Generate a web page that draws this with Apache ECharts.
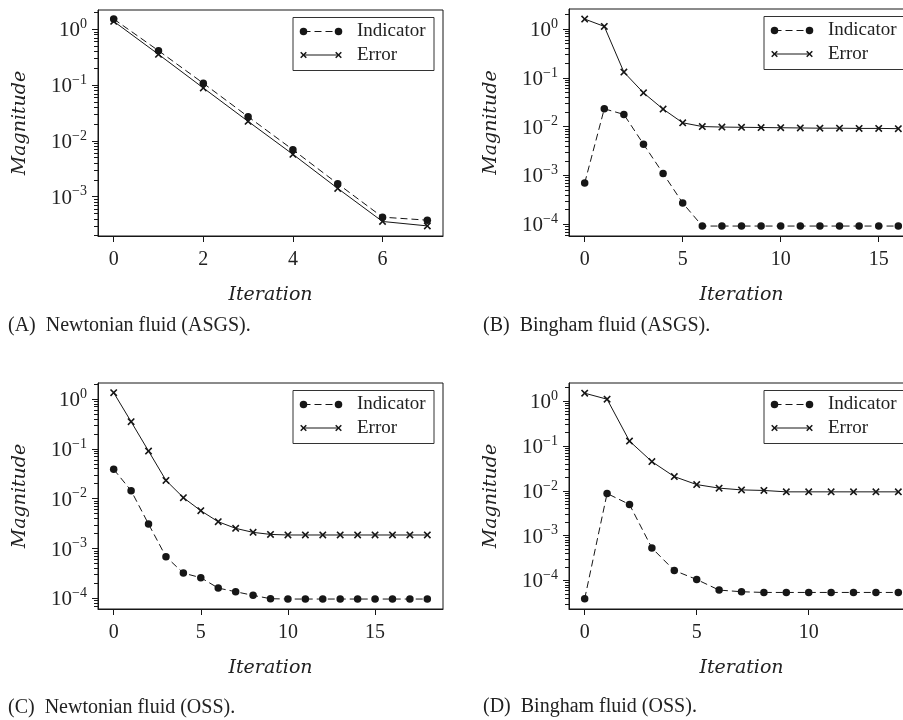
<!DOCTYPE html>
<html>
<head>
<meta charset="utf-8">
<script src="https://cdn.jsdelivr.net/npm/echarts@6/dist/echarts.min.js"></script>
<style>
  html, body { margin: 0; padding: 0; background: #fff; overflow: hidden; }
  #chart { width: 920px; height: 720px; }
</style>
</head>
<body>
<div id="chart"></div>
<script>
// Convergence of the error indicator and the true error, per iteration.

// (A) Newtonian fluid, ASGS
const newtonAsgsIndicator = [1.53, 0.414, 0.108, 0.0272, 0.00695, 0.00171, 4.3e-4, 3.8e-4];
const newtonAsgsError     = [1.39, 0.356, 0.089, 0.0224, 0.00575, 0.00141, 3.6e-4, 3.0e-4];

// (B) Bingham fluid, ASGS
const binghamAsgsIndicator = [7.0e-4, 0.0232, 0.0178, 0.00437, 0.0011, 2.73e-4, 9.2e-5, 9.2e-5, 9.2e-5,
                              9.2e-5, 9.2e-5, 9.2e-5, 9.2e-5, 9.2e-5, 9.2e-5, 9.2e-5, 9.2e-5];
const binghamAsgsError     = [1.6, 1.13, 0.131, 0.0493, 0.0229, 0.012, 0.01005, 0.0098, 0.0097,
                              0.0096, 0.0095, 0.0094, 0.0093, 0.0093, 0.0092, 0.0092, 0.0091];

// (C) Newtonian fluid, OSS
const newtonOssIndicator = [0.0388, 0.0145, 0.0031, 6.85e-4, 3.22e-4, 2.6e-4, 1.61e-4, 1.36e-4, 1.15e-4,
                            9.85e-5, 9.7e-5, 9.7e-5, 9.7e-5, 9.7e-5, 9.7e-5, 9.7e-5, 9.7e-5, 9.7e-5, 9.7e-5];
const newtonOssError     = [1.34, 0.351, 0.0905, 0.0233, 0.0105, 0.00574, 0.00345, 0.00254, 0.00211,
                            0.00192, 0.00187, 0.00187, 0.00187, 0.00187, 0.00187, 0.00187, 0.00187, 0.00187, 0.00187];

// (D) Bingham fluid, OSS
const binghamOssIndicator = [3.9e-5, 0.00873, 0.00497, 5.3e-4, 1.67e-4, 1.05e-4, 6.1e-5, 5.6e-5,
                             5.4e-5, 5.4e-5, 5.4e-5, 5.4e-5, 5.4e-5, 5.4e-5, 5.4e-5];
const binghamOssError     = [1.51, 1.11, 0.129, 0.0449, 0.0208, 0.0138, 0.0115, 0.0105,
                             0.0102, 0.0095, 0.0095, 0.0095, 0.0095, 0.0095, 0.0095];

// Tick values
const xTicksA = [0, 2, 4, 6];
const xTicksB = [0, 5, 10, 15];
const xTicksC = [0, 5, 10, 15];
const xTicksD = [0, 5, 10];
const yMajorTicks = [1e-4, 1e-3, 1e-2, 1e-1, 1];
const yMinorTicks = [2e-5, 3e-5, 4e-5, 5e-5, 6e-5, 7e-5, 8e-5, 9e-5,
                     2e-4, 3e-4, 4e-4, 5e-4, 6e-4, 7e-4, 8e-4, 9e-4,
                     2e-3, 3e-3, 4e-3, 5e-3, 6e-3, 7e-3, 8e-3, 9e-3,
                     2e-2, 3e-2, 4e-2, 5e-2, 6e-2, 7e-2, 8e-2, 9e-2,
                     0.2, 0.3, 0.4, 0.5, 0.6, 0.7, 0.8, 0.9, 2];

const captions = ['(A)  Newtonian fluid (ASGS).', '(B)  Bingham fluid (ASGS).',
                  '(C)  Newtonian fluid (OSS).', '(D)  Bingham fluid (OSS).'];
const legendNames = ['Indicator', 'Error'];

const INK = '#161616';
const SERIF = '"Liberation Serif", "Times New Roman", serif';
const MATH_IT = '"DejaVu Serif", serif';

const panels = [
  { grid: { left: 98,  top: 10,  width: 345, height: 226 }, x: [-0.35, 7.35], y: [-3.704, 0.346],
    ticks: xTicksA, ind: newtonAsgsIndicator, err: newtonAsgsError, capY: 326 },
  { grid: { left: 569, top: 9,   width: 345, height: 227 }, x: [-0.8, 16.8],  y: [-4.24, 0.41],
    ticks: xTicksB, ind: binghamAsgsIndicator, err: binghamAsgsError, capY: 326 },
  { grid: { left: 98,  top: 383, width: 345, height: 226 }, x: [-0.9, 18.9],  y: [-4.213, 0.321],
    ticks: xTicksC, ind: newtonOssIndicator, err: newtonOssError, capY: 708 },
  { grid: { left: 569, top: 383, width: 345, height: 226 }, x: [-0.7, 14.7],  y: [-4.637, 0.407],
    ticks: xTicksD, ind: binghamOssIndicator, err: binghamOssError, capY: 707 }
];

const crossPath = 'path://M0,1.5L1.5,0L5,3.5L8.5,0L10,1.5L6.5,5L10,8.5L8.5,10L5,6.5L1.5,10L0,8.5L3.5,5Z';

function expLabel(v) {
  const e = Math.round(Math.log10(v));
  return '{b|10}{s|' + (e < 0 ? '\u2212' + (-e) : String(e)) + '}';
}

const grids = [], xAxes = [], yAxes = [], series = [], graphics = [];

panels.forEach((p, i) => {
  const ymin = Math.pow(10, p.y[0]), ymax = Math.pow(10, p.y[1]);
  grids.push(Object.assign({ show: true, borderColor: INK, borderWidth: 1, containLabel: false }, p.grid));

  xAxes.push({
    gridIndex: i, type: 'value', min: p.x[0], max: p.x[1],
    axisLine: { show: true, onZero: false, lineStyle: { color: INK, width: 1 } },
    splitLine: { show: false },
    axisTick: { show: true, customValues: p.ticks, length: 6, inside: false, lineStyle: { color: INK, width: 1 } },
    axisLabel: { customValues: p.ticks, margin: 14, fontSize: 20, fontFamily: SERIF, color: '#222' },
    name: 'Iteration', nameLocation: 'middle', nameGap: 50,
    nameTextStyle: { fontFamily: MATH_IT, fontStyle: 'italic', fontSize: 19, color: '#222' }
  });

  // main log axis with major ticks and labels
  yAxes.push({
    gridIndex: i, type: 'log', logBase: 10, min: ymin, max: ymax,
    axisLine: { show: true, onZero: false, lineStyle: { color: INK, width: 1 } },
    splitLine: { show: false },
    axisTick: { show: true, customValues: yMajorTicks, length: 6, inside: false, lineStyle: { color: INK, width: 1 } },
    axisLabel: {
      customValues: yMajorTicks, margin: 11, formatter: expLabel, color: '#222',
      rich: {
        b: { fontSize: 21, fontFamily: SERIF, color: '#222', verticalAlign: 'bottom', lineHeight: 24 },
        s: { fontSize: 14, fontFamily: SERIF, color: '#222', verticalAlign: 'top', lineHeight: 24 }
      }
    },
    name: 'Magnitude', nameLocation: 'middle', nameGap: 68,
    nameTextStyle: { fontFamily: MATH_IT, fontStyle: 'italic', fontSize: 19, color: '#222' }
  });
  // overlay log axis carrying the minor ticks
  yAxes.push({
    gridIndex: i, type: 'log', logBase: 10, min: ymin, max: ymax, position: 'left',
    axisLine: { show: false, onZero: false }, splitLine: { show: false }, axisLabel: { show: false },
    axisTick: { show: true, customValues: yMinorTicks.filter(v => v >= ymin && v <= ymax),
                length: 4, inside: false, lineStyle: { color: INK, width: 1 } }
  });

  series.push({
    name: legendNames[0], type: 'line', xAxisIndex: i, yAxisIndex: 2 * i,
    data: p.ind.map((v, k) => [k, v]),
    symbol: 'circle', symbolSize: 7.5, showAllSymbol: true,
    lineStyle: { color: INK, width: 1, type: [7, 4] },
    itemStyle: { color: INK }, z: 3
  });
  series.push({
    name: legendNames[1], type: 'line', xAxisIndex: i, yAxisIndex: 2 * i,
    data: p.err.map((v, k) => [k, v]),
    symbol: crossPath, symbolSize: 7.5, showAllSymbol: true,
    lineStyle: { color: INK, width: 1, type: 'solid' },
    itemStyle: { color: INK }, z: 3
  });

  // legend box
  const g = p.grid;
  const bx = g.left + g.width - 150, by = g.top + 7.5;
  const r1 = by + 14, r2 = by + 37.5;
  const c1 = bx + 10.5, c2 = bx + 45.5;
  graphics.push({ type: 'rect', shape: { x: bx, y: by, width: 141, height: 53 },
                  style: { fill: '#fff', stroke: '#333', lineWidth: 1 }, z: 10 });
  graphics.push({ type: 'line', shape: { x1: c1, y1: r1, x2: c2, y2: r1 },
                  style: { stroke: INK, lineWidth: 1, lineDash: [7, 4] }, z: 11 });
  graphics.push({ type: 'circle', shape: { cx: c1, cy: r1, r: 3.75 }, style: { fill: INK }, z: 12 });
  graphics.push({ type: 'circle', shape: { cx: c2, cy: r1, r: 3.75 }, style: { fill: INK }, z: 12 });
  graphics.push({ type: 'line', shape: { x1: c1, y1: r2, x2: c2, y2: r2 },
                  style: { stroke: INK, lineWidth: 1 }, z: 11 });
  [c1, c2].forEach(cx => {
    graphics.push({ type: 'line', shape: { x1: cx - 2.8, y1: r2 - 2.8, x2: cx + 2.8, y2: r2 + 2.8 },
                    style: { stroke: INK, lineWidth: 1.5 }, z: 12 });
    graphics.push({ type: 'line', shape: { x1: cx - 2.8, y1: r2 + 2.8, x2: cx + 2.8, y2: r2 - 2.8 },
                    style: { stroke: INK, lineWidth: 1.5 }, z: 12 });
  });
  graphics.push({ type: 'text', x: bx + 64, y: r1, z: 12,
                  style: { text: legendNames[0], font: '19px ' + SERIF, fill: '#222', verticalAlign: 'middle' } });
  graphics.push({ type: 'text', x: bx + 64, y: r2, z: 12,
                  style: { text: legendNames[1], font: '19px ' + SERIF, fill: '#222', verticalAlign: 'middle' } });

  // caption
  graphics.push({ type: 'text', x: i % 2 === 0 ? 8 : 483, y: p.capY, z: 12,
                  style: { text: captions[i], font: '20px ' + SERIF, fill: '#222', verticalAlign: 'middle' } });
});

const chart = echarts.init(document.getElementById('chart'), null, { renderer: 'canvas' });
chart.setOption({
  animation: false,
  backgroundColor: '#fff',
  grid: grids, xAxis: xAxes, yAxis: yAxes, series: series,
  graphic: { elements: graphics }
});
</script>
</body>
</html>
